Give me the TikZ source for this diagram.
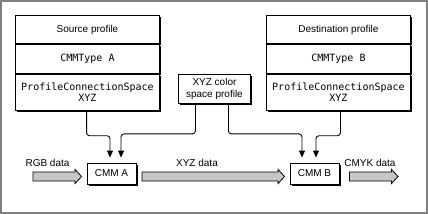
\documentclass[tikz,border=0pt]{standalone}
\usepackage{fontspec}
\setmainfont{Liberation Sans}
\newfontfamily\monofont{DejaVu Sans Mono}
\usetikzlibrary{arrows.meta, calc, shadows, positioning}

\tikzset{
  boxshadow/.style={drop shadow={shadow xshift=2pt, shadow yshift=-2pt, fill=black, opacity=1}},
  profilerow/.style={draw, fill=white, line width=0.9pt, minimum width=144pt, inner sep=1pt,
    anchor=north west, align=center, font=\fontsize{10}{12}\selectfont, boxshadow},
  monorow/.style={profilerow, font=\monofont\fontsize{10}{11}\selectfont},
  cmmbox/.style={draw, fill=white, line width=0.9pt, minimum width=49pt, minimum height=21pt,
    inner sep=0pt, font=\fontsize{10}{12}\selectfont, boxshadow},
  datalabel/.style={inner sep=0pt, font=\fontsize{10}{12}\selectfont},
  feed/.style={-{Triangle[length=7pt,width=6pt]}, line width=0.9pt, rounded corners=3pt},
  fatarrow/.style={draw=black, fill=black!22, line width=0.8pt, to path={
    ($(\tikztostart)+(0,-4.5)$) -- ($(\tikztotarget)+(-6.5,-4.5)$) -- ($(\tikztotarget)+(-6.5,-7)$)
    -- (\tikztotarget) -- ($(\tikztotarget)+(-6.5,7)$) -- ($(\tikztotarget)+(-6.5,4.5)$)
    -- ($(\tikztostart)+(0,4.5)$) -- cycle}}
}

\begin{document}
\begin{tikzpicture}[x=1pt, y=-1pt]
\useasboundingbox (0,0) rectangle (428,214);
\draw[black!50, line width=2pt] (1,1) rectangle (426.5,212.5);

% Source profile
\node[profilerow, minimum height=28pt] (srcname) at (15,15) {Source profile};
\node[monorow, minimum height=29pt] (srctype) at (srcname.south west) {CMMType A};
\node[monorow, minimum height=36pt] (srcpcs) at (srctype.south west) {ProfileConnectionSpace\\XYZ};

% Destination profile
\node[profilerow, minimum height=28pt] (dstname) at (266,15) {Destination profile};
\node[monorow, minimum height=29pt] (dsttype) at (dstname.south west) {CMMType B};
\node[monorow, minimum height=36pt] (dstpcs) at (dsttype.south west) {ProfileConnectionSpace\\XYZ};

% XYZ color space profile
\node[profilerow, minimum width=72pt, minimum height=29pt] (xyz) at (178,74) {XYZ color\\space profile};

% CMMs
\node[cmmbox] (cmma) at (111.5,173.5) {CMM A};
\node[cmmbox] (cmmb) at (314.5,173.5) {CMM B};

\coordinate (a1) at ($(cmma.north)+(-1.5,-5)$);
\coordinate (a2) at ($(cmma.north)+(9.5,-5)$);
\coordinate (b1) at ($(cmmb.north)+(-12.5,-5)$);
\coordinate (b2) at ($(cmmb.north)+(1.5,-5)$);

\draw[feed] (srcpcs.south -| cmma.west) -- ++(0,25) -| (a1);
\draw[feed] ($(xyz.south)+(-19,0)$) -- ++(0,30) -| (a2);
\draw[feed] ($(xyz.south)+(14,0)$) -- ++(0,30) -| (b1);
\draw[feed] ($(dstpcs.south -| cmmb.east)+(1,0)$) -- ++(0,25) -| (b2);

% data flow
\coordinate (rgbin) at (33,176.5);
\coordinate (cmykout) at (398,176.5);
\draw[fatarrow] (rgbin) to ($(cmma.west)+(-5,3)$);
\draw[fatarrow] ($(cmma.east)+(5.5,3)$) to ($(cmmb.west)+(-5,3)$);
\draw[fatarrow] ($(cmmb.east)+(10,3)$) to (cmykout);

\node[datalabel] (rgblabel) at (47.5,163) {RGB data};
\node[datalabel] (xyzlabel) at (197,163) {XYZ data};
\node[datalabel] (cmyklabel) at (370,163) {CMYK data};
\end{tikzpicture}
\end{document}
